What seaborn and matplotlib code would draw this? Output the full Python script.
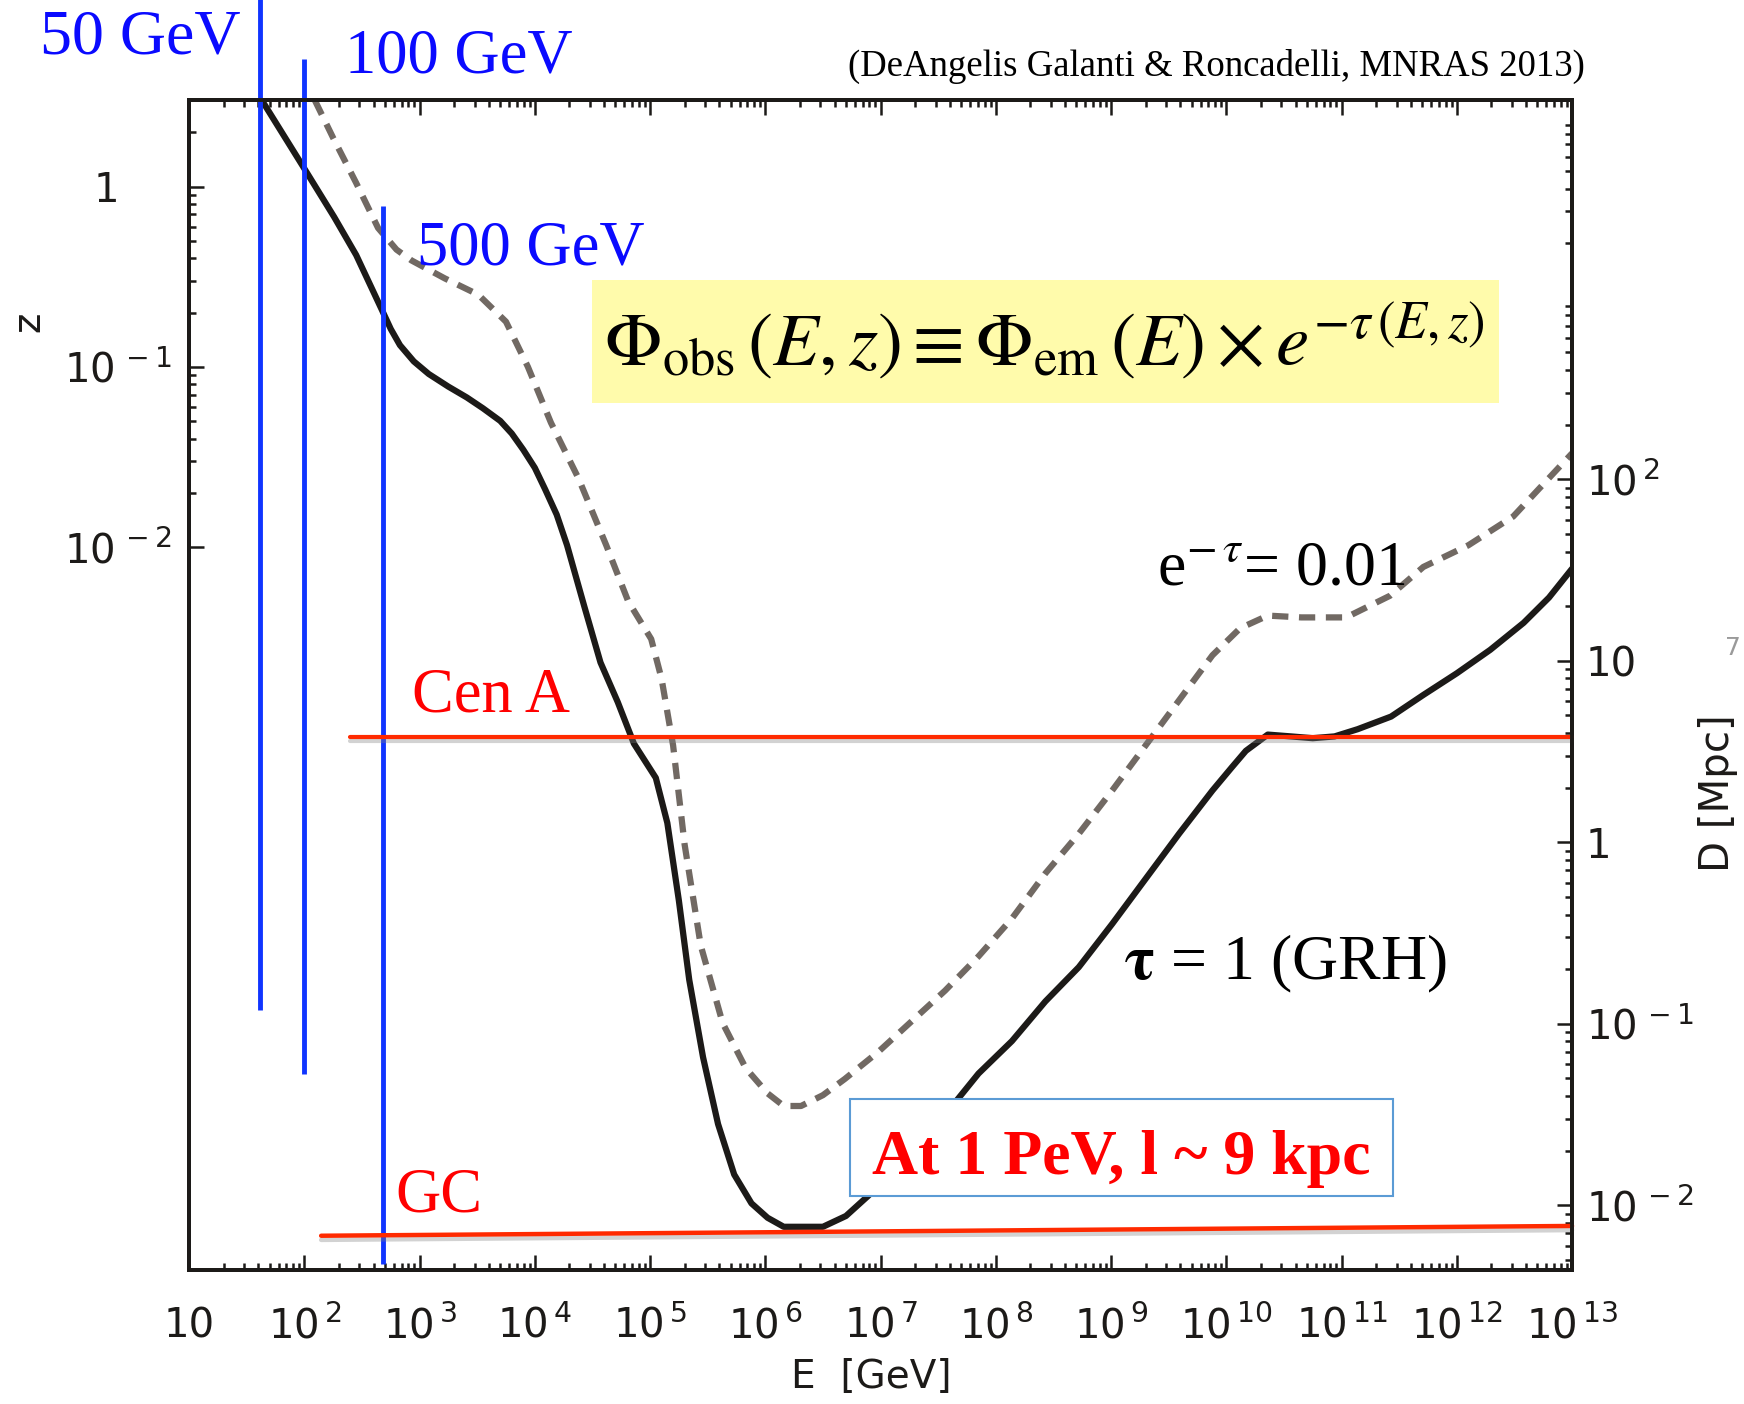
import numpy as np
import seaborn as sns
import matplotlib.pyplot as plt
import matplotlib.patheffects as pe
from matplotlib.patches import Rectangle
from matplotlib.ticker import FixedLocator, FuncFormatter, LogLocator, NullFormatter

# tau = 1 horizon (solid) as log10(E/GeV), log10(z)
solid_logE = [1.63, 1.99, 2.26, 2.45, 2.67, 2.75, 2.83, 2.95, 3.08, 3.25, 3.41, 3.55, 3.70,
              3.80, 3.90, 4.00, 4.09, 4.19, 4.28, 4.43, 4.57, 4.72, 4.86, 4.96, 5.05, 5.15,
              5.25, 5.34, 5.46, 5.59, 5.73, 5.88, 6.02, 6.16, 6.50, 6.70, 6.89, 7.08, 7.37,
              7.66, 7.85, 8.14, 8.43, 8.72, 9.01, 9.30, 9.59, 9.88, 10.05, 10.17, 10.36,
              10.56, 10.75, 10.94, 11.14, 11.43, 11.71, 12.00, 12.29, 12.58, 12.80, 13.00]
solid_logz = [0.48, 0.11, -0.17, -0.38, -0.68, -0.79, -0.88, -0.97, -1.04, -1.11, -1.17,
              -1.23, -1.30, -1.37, -1.46, -1.56, -1.68, -1.82, -1.99, -2.33, -2.64, -2.86,
              -3.09, -3.19, -3.28, -3.53, -3.96, -4.40, -4.83, -5.20, -5.48, -5.64, -5.72,
              -5.77, -5.77, -5.71, -5.60, -5.48, -5.29, -5.07, -4.92, -4.74, -4.52, -4.33,
              -4.09, -3.84, -3.59, -3.35, -3.22, -3.13, -3.04, -3.05, -3.06, -3.05, -3.01,
              -2.94, -2.82, -2.70, -2.57, -2.42, -2.28, -2.12]

# e^-tau = 0.01 horizon (dashed)
dash_logE = [2.09, 2.25, 2.45, 2.64, 2.80, 2.93, 3.22, 3.51, 3.75, 3.94, 4.14, 4.38, 4.62,
             4.81, 5.01, 5.10, 5.20, 5.30, 5.44, 5.63, 5.83, 6.02, 6.16, 6.31, 6.50, 6.69,
             6.98, 7.27, 7.56, 7.85, 8.14, 8.43, 8.72, 9.01, 9.30, 9.59, 9.88, 10.12,
             10.36, 10.65, 11.04, 11.42, 11.71, 12.10, 12.49, 13.00]
dash_logz = [0.48, 0.27, 0.02, -0.23, -0.35, -0.41, -0.51, -0.60, -0.75, -1.00, -1.31,
             -1.62, -1.99, -2.30, -2.51, -2.73, -3.10, -3.65, -4.21, -4.64, -4.89, -5.03,
             -5.10, -5.10, -5.04, -4.95, -4.80, -4.63, -4.46, -4.27, -4.06, -3.81, -3.59,
             -3.35, -3.10, -2.85, -2.60, -2.45, -2.38, -2.39, -2.39, -2.27, -2.11, -1.99,
             -1.83, -1.48]

# energy markers (GeV) with their label and z span of the drawn line
marker_E = [41, 100, 480]
marker_labels = ["50 GeV", "100 GeV", "500 GeV"]
marker_ztop = [10.9, 5.1, 0.78]
marker_zbot = [2.7e-5, 1.2e-5, 1.05e-6]

# source distances on the D [Mpc] axis
cena_E = [250, 1e13]
cena_D = [3.8, 3.8]
gc_E = [140, 1e13]
gc_D = [0.0068, 0.0077]

x_ticks = [10.0 ** k for k in range(1, 14)]
z_ticks = [0.01, 0.1, 1]
z_minor = [m * 10.0 ** e for e in (-2, -1, 0) for m in range(2, 10) if m * 10.0 ** e < 3]
d_ticks = [0.01, 0.1, 1, 10, 100]

sns.set_theme(style="ticks")
plt.rcParams["font.family"] = ["DejaVu Sans"]
serif = ["Liberation Serif", "DejaVu Serif"]
tick_size = 29

ink = "#1c1a18"
blue_line = "#1034ff"
blue_text = "#0a0aff"
red_line = "#ff2a00"
red_text = "#ff0000"


def log_label(v, pos):
    e = int(round(np.log10(v)))
    if e == 0:
        return "1"
    if e == 1:
        return "10"
    return r"$\mathregular{10^{\,%d}}$" % e


def z_label(v, pos):
    e = int(round(np.log10(v)))
    if e == 0:
        return "1\u2003 "
    return r"$\mathregular{10^{\,%d}}$" % e


fig = plt.figure(figsize=(17.44, 14.04), dpi=100)
ax = fig.add_axes([0.1084, 0.0954, 0.793, 0.8334])
ax2 = ax.twinx()

sns.lineplot(x=10.0 ** np.array(solid_logE), y=10.0 ** np.array(solid_logz), ax=ax,
             color=ink, linewidth=4.5, sort=False)
sns.lineplot(x=10.0 ** np.array(dash_logE), y=10.0 ** np.array(dash_logz), ax=ax,
             color="#716963", linewidth=4.5, sort=False)
ax.lines[1].set_dashes((2.6, 1.7))

ax.set_xscale("log")
ax.set_yscale("log")
ax.set_xlim(10, 1e13)
ax.set_ylim(10 ** -6.01, 10 ** 0.48)
ax.set_xlabel("")
ax.set_ylabel("")

for e, zt, zb in zip(marker_E, marker_ztop, marker_zbot):
    ax.vlines(e, zb, zt, color=blue_line, linewidth=3.5, clip_on=False, zorder=5)

ax2.set_yscale("log")
ax2.set_ylim(0.0044, 12300)
shadow = [pe.SimpleLineShadow(offset=(0, -3), shadow_color="gray", alpha=0.35), pe.Normal()]
ax2.plot(cena_E, cena_D, color=red_line, linewidth=3.0, path_effects=shadow, clip_on=False)
ax2.plot(gc_E, gc_D, color=red_line, linewidth=3.2, path_effects=shadow, clip_on=False)

# ticks
ax.xaxis.set_major_locator(FixedLocator(x_ticks))
ax.xaxis.set_minor_locator(LogLocator(base=10, subs=np.arange(2, 10), numticks=100))
ax.xaxis.set_major_formatter(FuncFormatter(log_label))
ax.xaxis.set_minor_formatter(NullFormatter())
ax.yaxis.set_major_locator(FixedLocator(z_ticks))
ax.yaxis.set_minor_locator(FixedLocator(z_minor))
ax.yaxis.set_major_formatter(FuncFormatter(z_label))
ax.yaxis.set_minor_formatter(NullFormatter())
ax2.yaxis.set_major_locator(FixedLocator(d_ticks))
ax2.yaxis.set_minor_locator(LogLocator(base=10, subs=np.arange(2, 10), numticks=100))
ax2.yaxis.set_major_formatter(FuncFormatter(log_label))
ax2.yaxis.set_minor_formatter(NullFormatter())

ax.tick_params(axis="x", which="both", direction="in", top=True, bottom=True,
               width=1.8, color=ink, labelsize=tick_size, pad=26, labelcolor=ink)
ax.tick_params(axis="y", which="both", direction="in", left=True, right=False,
               width=1.8, color=ink, labelsize=tick_size, pad=12, labelcolor=ink)
ax2.tick_params(axis="y", which="both", direction="in", right=True, left=False,
                width=1.8, color=ink, labelsize=tick_size, pad=10, labelcolor=ink)
for a in (ax, ax2):
    a.tick_params(which="major", length=11)
    a.tick_params(which="minor", length=5)
    for s in a.spines.values():
        s.set_visible(True)
        s.set_linewidth(2.8)
        s.set_color(ink)

# axis titles
fig.text(0.016, 0.771, "z", rotation=90, ha="center", va="center", fontsize=28, color=ink)
fig.text(0.985, 0.435, "D [Mpc]", rotation=90, ha="center", va="center", fontsize=29, color=ink)
fig.text(0.4994, 0.019, "E  [GeV]", ha="center", va="center", fontsize=28, color=ink)

# energy labels
fig.text(0.0229, 0.9622, marker_labels[0], family=serif, fontsize=46, color=blue_text)
fig.text(0.1978, 0.9487, marker_labels[1], family=serif, fontsize=45, color=blue_text)
fig.text(0.2391, 0.8113, marker_labels[2], family=serif, fontsize=45, color=blue_text)

fig.text(0.9088, 0.946, "(DeAngelis Galanti & Roncadelli, MNRAS 2013)", family=serif,
         fontsize=26.5, ha="right", color="black")

# formula box
fig.patches.append(Rectangle((0.3394, 0.7130), 0.520, 0.0876, transform=fig.transFigure,
                             facecolor="#fffbab", edgecolor="none", zorder=3))
fig.text(0.599, 0.757,
         r"$\Phi_{\rm obs}\,(E,z)\equiv\Phi_{\rm em}\,(E)\times e^{-\tau\,(E,z)}$",
         ha="center", va="center", fontsize=54, color="black", math_fontfamily="stix", zorder=4)

fig.text(0.6634, 0.584, r"e$^{-\,\tau}$= 0.01", family=serif, fontsize=46, color="black",
         math_fontfamily="stix")
fig.text(0.644, 0.3027, r"$\mathbf{\tau}$ = 1 (GRH)", family=serif, fontsize=46, color="black",
         math_fontfamily="stix")

fig.text(0.2362, 0.4929, "Cen A", family=serif, fontsize=45, color=red_text)
fig.text(0.2265, 0.1368, "GC", family=serif, fontsize=45, color=red_text)

fig.patches.append(Rectangle((850 / 1744, 1 - 1196 / 1404), 543 / 1744, 97 / 1404,
                             transform=fig.transFigure, facecolor="white",
                             edgecolor="#5b9bd5", linewidth=1.5, zorder=3))
fig.text(0.6428, 0.164, "At 1 PeV, l ~ 9 kpc", family=serif, fontweight="bold", fontsize=46,
         ha="center", va="baseline", color=red_text, zorder=4)

fig.text(0.9937, 0.5385, "7", fontsize=18, color="#9a9a9a", ha="center", va="center")

fig.savefig("out.png", dpi=100)
